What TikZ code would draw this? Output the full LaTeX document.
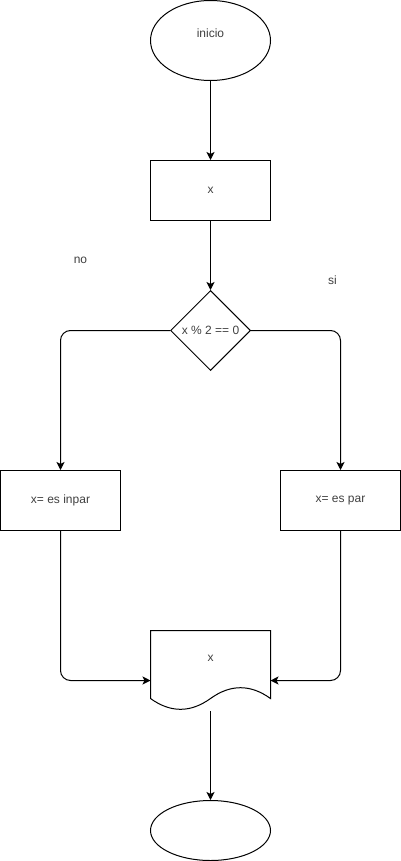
\documentclass[tikz,border=0pt]{standalone}
\usepackage{fontspec}
\setmainfont{Liberation Sans}
\usetikzlibrary{arrows.meta, shapes.geometric}

\begin{document}
\begin{tikzpicture}[x=1pt, y=-1pt, line width=1pt,
	txt/.style={text=black!75, font=\fontsize{12}{14}\selectfont},
	flow/.style={-{Stealth[length=8pt, width=8pt, inset=2pt]}, rounded corners=10pt},
	terminal/.style={ellipse, draw, minimum width=120pt, inner sep=0pt, txt},
	process/.style={rectangle, draw, minimum width=120pt, minimum height=60pt, inner sep=0pt, txt},
	decision/.style={diamond, draw, aspect=1, minimum width=80pt, minimum height=80pt, inner sep=0pt, txt}]
	\useasboundingbox (-0.5,-0.5) rectangle (400.5,860.5);
	\node[terminal, minimum height=80pt, label={[txt, yshift=7pt]center:inicio}] (inicio) at (210,40) {};
	\node[process] (leer) at (210,190) {x};
	\node[decision] (par) at (210,330) {x \% 2 == 0};
	\node[process] (impar) at (60,500) {x= es inpar};
	\node[process] (espar) at (340,500) {x= es par};
	\node[minimum width=120pt, minimum height=80pt, inner sep=0pt] (salida) at (210,670) {};
	\node[txt] (salidatxt) at (210,658) {x};
	\node[terminal, minimum height=60pt] (fin) at (210,830) {};
	\node[txt] (no) at (80,260) {no};
	\node[txt] (si) at (332,280) {si};
	\coordinate (entradaL) at (150,680);
	\coordinate (entradaR) at (270,680);
	% documento
	\draw (150,630) -- (270,630) -- (270,698) .. controls (250,683.6) and (230,683.6) .. (210,698) .. controls (190,712.4) and (170,712.4) .. (150,698) -- cycle;
	\draw[flow] (inicio) -- (leer);
	\draw[flow] (leer) -- (par);
	\draw[flow] (par.west) -| (impar.north);
	\draw[flow] (par.east) -| (espar.north);
	\draw[flow] (impar.south) |- (entradaL);
	\draw[flow] (espar.south) |- (entradaR);
	\draw[flow] (salida.south) -- (fin);
\end{tikzpicture}
\end{document}
